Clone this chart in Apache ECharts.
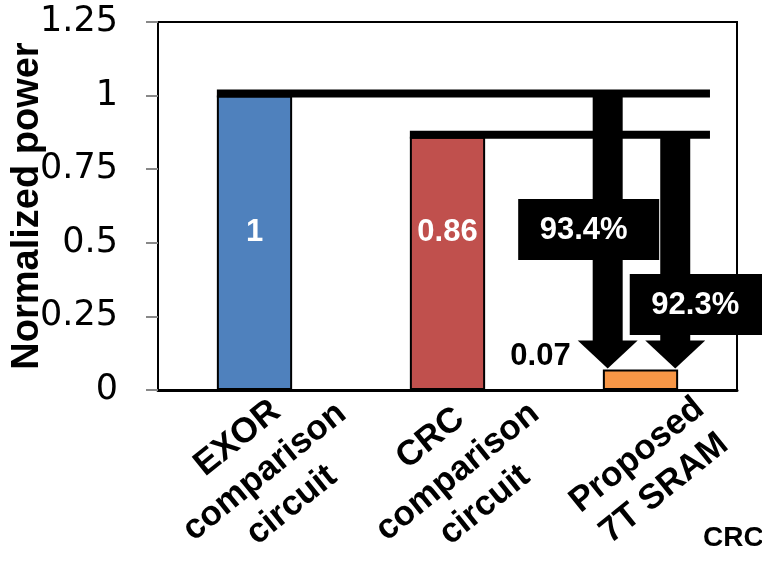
<!DOCTYPE html>
<html>
<head>
<meta charset="utf-8">
<script src="https://cdn.jsdelivr.net/npm/echarts@6/dist/echarts.min.js"></script>
<style>
html,body{margin:0;padding:0;background:#fff;}
#chart{width:762px;height:561px;}
</style>
</head>
<body>
<div id="chart"></div>
<script>
// ---- data ----
const categories = ['EXOR\ncomparison\ncircuit', 'CRC\ncomparison\ncircuit', 'Proposed\n7T SRAM'];
const values = [1, 0.86, 0.07];
const valueLabels = ['1', '0.86', '0.07'];
const barColors = ['#4F81BD', '#C0504D', '#F79646'];
const reductionLabels = ['93.4%', '92.3%'];
const reductionLabelValues = [0.545, 0.29];
const yMin = 0, yMax = 1.25, yStep = 0.25;
const yAxisName = 'Normalized power';
const cornerText = 'CRC';

// ---- chart ----
const chart = echarts.init(document.getElementById('chart'), null, {renderer: 'canvas'});
const FONT = 'Liberation Sans, Arial, sans-serif';
const BAR_FRAC = 0.39;

const barData = values.map((v, i) => {
  const item = {
    value: v,
    itemStyle: {color: barColors[i], borderColor: '#000', borderWidth: 2},
    label: {show: true, formatter: valueLabels[i]}
  };
  if (i === 2) {
    item.label = {show: true, formatter: valueLabels[i], position: 'insideBottom', distance: 18, color: '#000', offset: [-100, 0]};
  }
  return item;
});

const arrowData = reductionLabels.map((lab, i) => [i, values[i], values[2], reductionLabelValues[i], lab]);

function renderArrow(params, api) {
  const i = api.value(0);
  const from = api.value(1);
  const to = api.value(2);
  const labV = api.value(3);
  const lab = reductionLabels[params.dataIndex];
  const band = api.size([1, 0])[0];
  const barW = band * BAR_FRAC;
  const src = api.coord([i, from]);
  const tgt = api.coord([2, to]);
  const srcX = src[0] - barW / 2;
  const lineY = src[1];
  const ax = tgt[0] + (params.dataIndex === 0 ? -0.17 : 0.18) * band;
  const endX = tgt[0] + 0.36 * band;
  const tipY = tgt[1] - 1;
  const headH = 28, headHalf = 30, shaftHalf = 15;
  const boxCx = ax + (params.dataIndex === 0 ? -19 : 25);
  const boxCy = api.coord([2, labV])[1];
  const boxW = 141, boxH = 61;
  return {
    type: 'group',
    children: [
      {type: 'rect', shape: {x: srcX, y: lineY - 6, width: endX - srcX, height: 8}, style: {fill: '#000'}},
      {type: 'rect', shape: {x: ax - shaftHalf, y: lineY, width: shaftHalf * 2, height: tipY - headH - lineY + 1}, style: {fill: '#000'}},
      {type: 'polygon', shape: {points: [[ax - headHalf, tipY - headH], [ax + headHalf, tipY - headH], [ax, tipY]]}, style: {fill: '#000'}},
      {type: 'rect', shape: {x: boxCx - boxW / 2, y: boxCy - boxH / 2, width: boxW, height: boxH}, style: {fill: '#000'}},
      {type: 'text', x: boxCx - 5, y: boxCy + 1, style: {text: lab, fill: '#fff', font: 'bold 31px ' + FONT, align: 'center', verticalAlign: 'middle'}}
    ]
  };
}

chart.setOption({
  animation: false,
  backgroundColor: '#fff',
  grid: {left: 158, right: 25, top: 22, bottom: 171, outerBoundsMode: 'none', containLabel: false,
    show: true, borderColor: '#000', borderWidth: 2, backgroundColor: 'transparent'},
  xAxis: {
    type: 'category',
    data: categories,
    axisLine: {lineStyle: {color: '#000', width: 3}},
    axisTick: {show: false},
    axisLabel: {
      interval: 0, rotate: 39, align: 'center', verticalAlign: 'middle', margin: 90,
      padding: [12, 0, 0, 26],
      color: '#000', fontFamily: FONT, fontWeight: 'bold', fontSize: 35, lineHeight: 43
    }
  },
  yAxis: {
    type: 'value', min: yMin, max: yMax, interval: yStep,
    name: yAxisName, nameLocation: 'middle', nameRotate: 90, nameGap: 111, nameMoveOverlap: false,
    nameTextStyle: {color: '#000', fontFamily: FONT, fontWeight: 'bold', fontSize: 38},
    axisLine: {show: true, lineStyle: {color: '#000', width: 2}},
    axisTick: {show: true, inside: false, length: 12, lineStyle: {color: '#888', width: 2}},
    splitLine: {show: false},
    axisLabel: {color: '#000', fontFamily: 'DejaVu Sans', fontSize: 35, margin: 40,
      formatter: v => String(v)}
  },
  series: [
    {
      type: 'bar', data: barData, barWidth: (BAR_FRAC * 100) + '%',
      label: {show: true, position: 'insideBottom', distance: 142, color: '#fff', fontFamily: FONT, fontWeight: 'bold', fontSize: 31}
    },
    {
      type: 'custom', data: arrowData, renderItem: renderArrow, z: 5,
      encode: {x: 0, y: [1, 2]}
    }
  ],
  graphic: [
    {type: 'text', left: 703, top: 524, style: {text: cornerText, fill: '#000', font: 'bold 28px ' + FONT}}
  ]
});
</script>
</body>
</html>
